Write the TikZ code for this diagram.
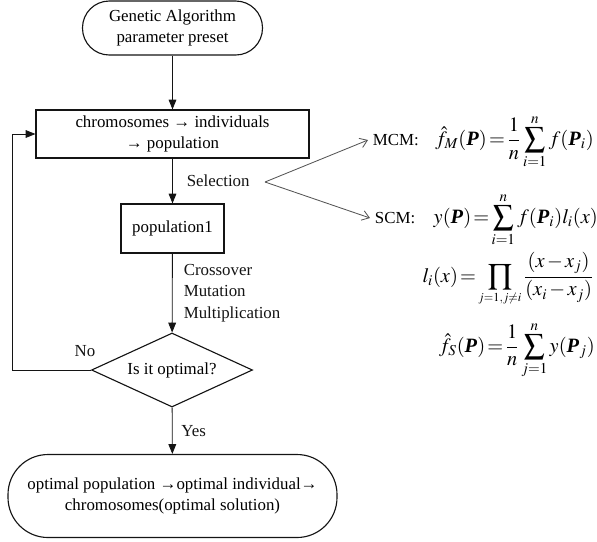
\documentclass[tikz,border=0pt]{standalone}
\usepackage{amsmath}
\usepackage{mathptmx}
\usepackage{fontspec}
\setmainfont{Liberation Serif}
\usepackage{tikz}
\usetikzlibrary{shapes.geometric, arrows.meta, positioning}
\definecolor{mydark}{RGB}{20,20,20}
\definecolor{mygrey}{RGB}{85,85,85}
\newcommand{\gafont}{\fontsize{12}{15.5}\selectfont}
\newcommand{\eqfont}{\fontsize{14.5}{18}\selectfont\thickmuskip=2mu\medmuskip=2mu}
\newcommand{\bP}{\textbf{\textit{P}}}
\tikzset{
  termbox/.style={rectangle, draw=mydark, align=center,
    font=\gafont, line width=0.8pt},
  procbox/.style={rectangle, draw=mydark, align=center,
    font=\gafont, line width=0.8pt},
  decision/.style={diamond, draw=mydark, aspect=2.2, inner sep=0pt,
    minimum width=4.025cm, minimum height=1.85cm,
    font=\gafont, line width=0.8pt},
  arrow/.style={-{Triangle[length=7pt, width=5.5pt]}, line width=0.6pt, color=mydark},
  forkarrow/.style={-{Straight Barb[length=5pt, width=7pt]}, line width=0.6pt, color=mygrey},
  lbl/.style={font=\gafont},
  eqn/.style={font=\eqfont, inner sep=0pt}
}

\begin{document}
\begin{tikzpicture}
  \useasboundingbox (0,0) rectangle (14.925,-13.525);

  % Flow chart
  \node[termbox, minimum width=4.5cm, minimum height=1.35cm, rounded corners=0.67cm] (start) at (4.3125,-0.7) {Genetic Algorithm\\parameter preset};
  \node[procbox, minimum width=6.825cm, minimum height=1.2cm] (chrom) at (4.3125,-3.35) {chromosomes → individuals\\→ population};
  \node[procbox, minimum width=2.575cm, minimum height=1.225cm] (pop1) at (4.3125,-5.7125) {population1};
  \node[decision] (check) at (4.3,-9.25) {Is it optimal?};
  \node[termbox, minimum width=8.225cm, minimum height=2.075cm, rounded corners=1cm] (result) at (4.3125,-12.4) {optimal population →optimal individual→\\chromosomes(optimal solution)};

  % Paths
  \draw[arrow] (start) -- (chrom);
  \draw[arrow] (chrom) -- (pop1) node[lbl, midway, right=0.23cm] {Selection};
  \draw[arrow] (pop1) -- (check) node[lbl, midway, right=0.16cm, align=left] {Crossover\\Mutation\\Multiplication};
  \draw[arrow] (check) -- (result) node[lbl, midway, right=0.1cm] {Yes};

  % Loop back
  \coordinate (loop) at (0.3,-9.25);
  \draw[arrow] (check.west) node[lbl, above=0.2cm, xshift=-0.15cm] {No} -- (loop) |- (chrom.west);

  % Selection methods
  \coordinate (fork) at (6.625,-4.55);
  \node[lbl, anchor=west] (mcm) at (9.2,-3.5) {MCM:};
  \node[lbl, anchor=west] (scm) at (9.25,-5.45) {SCM:};
  \draw[forkarrow] (fork) -- (mcm.west);
  \draw[forkarrow] (fork) -- (scm.west);

  \node[eqn, base right=0.28cm of mcm] (mcmeq) {$\hat f_M(\bP)=\dfrac1n\displaystyle\sum_{i=1}^n f(\bP_i)$};
  \node[eqn, base right=0.33cm of scm] (scmeq) {$y(\bP)=\displaystyle\sum_{i=1}^n f(\bP_i)l_i(x)$};
  \node[eqn, anchor=base east] (lagr) at (14.85,-7.05) {$l_i(x)=\displaystyle\prod_{\scriptscriptstyle j=1,j\ne i}\frac{(x-x_j)}{(x_i-x_j)}$};
  \node[eqn, anchor=base east] (smean) at (14.875,-8.8) {$\hat f_S(\bP)=\dfrac1n\displaystyle\sum_{j=1}^n y(\bP_j)$};
\end{tikzpicture}
\end{document}
